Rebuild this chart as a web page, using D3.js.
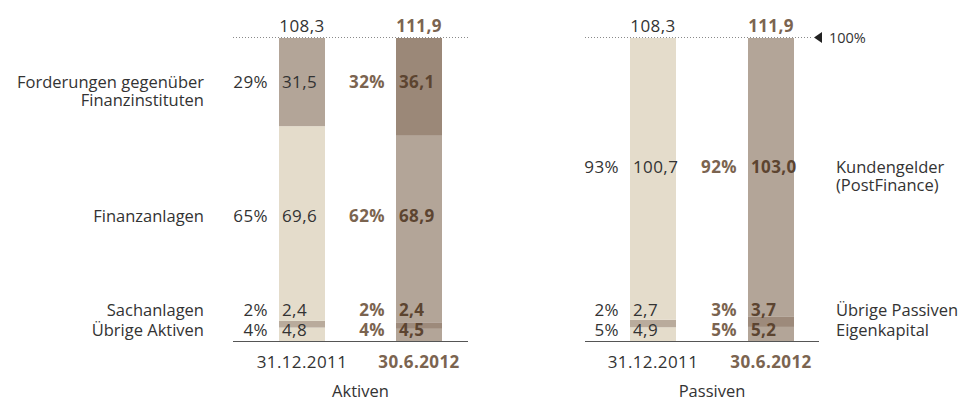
<!DOCTYPE html>
<html>
<head>
<meta charset="utf-8">
<script src="https://cdn.jsdelivr.net/npm/d3@7"></script>
<style>
  body { margin: 0; background: #fff; }
  text { font-family: "Open Sans", sans-serif; font-size: 16.5px; fill: #333; }
  .num { font-size: 17px; letter-spacing: 0.4px; }
  .bold { font-weight: 700; fill: #7b6450; }
  .inbold { font-weight: 700; fill: #5c4430; }
</style>
</head>
<body>
<div id="container"></div>
<script>
/* CONSTANTS AND GLOBALS */
const width = 960
const height = 401

/* DATA */
const dates = ["31.12.2011", "30.6.2012"]

// Aktiven, bottom to top
const aktivenCats = ["Übrige Aktiven", "Sachanlagen", "Finanzanlagen", "Forderungen gegenüber|Finanzinstituten"]
const aktiven2011 = [4.8, 2.4, 69.6, 31.5]
const aktiven2012 = [4.5, 2.4, 68.9, 36.1]
const aktivenPct2011 = [4, 2, 65, 29]
const aktivenPct2012 = [4, 2, 62, 32]
const aktivenTotals = [108.3, 111.9]

// Passiven, bottom to top
const passivenCats = ["Eigenkapital", "Übrige Passiven", "Kundengelder|(PostFinance)"]
const passiven2011 = [4.9, 2.7, 100.7]
const passiven2012 = [5.2, 3.7, 103.0]
const passivenPct2011 = [5, 2, 93]
const passivenPct2012 = [5, 3, 92]
const passivenTotals = [108.3, 111.9]

const fmt = d3.formatLocale({ decimal: ",", thousands: "'", grouping: [3], currency: ["", ""] }).format(".1f")

// colours per bar, bottom to top segments
const colors2011 = ["#e4dccb", "#b9ab9c", "#e4dccb", "#b3a598"]
const colors2012 = ["#b3a598", "#9d8a7b", "#b3a598", "#9b8878"]

const svg = d3.select("#container")
  .append("svg")
  .attr("width", width)
  .attr("height", height)

// SCALES (shared vertical, bars are 100%)
const yScale = d3.scaleLinear()
  .domain([0, 1])
  .range([341, 38])

const barW = 46

function drawPanel(opts) {
  const xScale = d3.scalePoint()
    .domain(dates)
    .range(opts.centers)

  // stack per date -> share of total
  const series = dates.map((dt, j) => {
    const vals = j === 0 ? opts.v2011 : opts.v2012
    const total = d3.sum(vals)
    let acc = 0
    return vals.map((v, i) => {
      const seg = { date: dt, i: i, y0: acc / total, y1: (acc + v) / total }
      acc += v
      return seg
    })
  })

  const g = svg.append("g")

  g.selectAll(".bar")
    .data(series)
    .join("g")
    .attr("class", "bar")
    .selectAll("rect")
    .data(d => d)
    .join("rect")
    .attr("x", d => xScale(d.date) - barW / 2)
    .attr("y", d => yScale(d.y1))
    .attr("width", barW)
    .attr("height", d => yScale(d.y0) - yScale(d.y1))
    .attr("fill", d => d.date === dates[0] ? opts.colors[0][d.i] : opts.colors[1][d.i])

  // dotted 100% line
  g.append("line")
    .attr("x1", opts.lineX[0]).attr("x2", opts.dotEnd)
    .attr("y1", yScale(1) - 0.5).attr("y2", yScale(1) - 0.5)
    .attr("stroke", "#8a8a8a")
    .attr("stroke-dasharray", "1,2")

  // baseline
  g.append("line")
    .attr("x1", opts.lineX[0]).attr("x2", opts.lineX[1])
    .attr("y1", yScale(0) + 0.5).attr("y2", yScale(0) + 0.5)
    .attr("stroke", "#555")

  // totals on top
  g.selectAll(".total")
    .data(opts.totals)
    .join("text")
    .attr("class", (d, i) => i === 1 ? "total num bold" : "total num")
    .attr("x", (d, i) => xScale(dates[i]))
    .attr("y", 32)
    .attr("text-anchor", "middle")
    .text(d => fmt(d))

  // per-row value and percent labels
  opts.cats.forEach((c, i) => {
    const y = opts.rowY[i]
    dates.forEach((dt, j) => {
      const vals = j === 0 ? opts.v2011 : opts.v2012
      const pcts = j === 0 ? opts.p2011 : opts.p2012
      g.append("text")
        .attr("class", j === 1 ? "num bold" : "num")
        .attr("x", xScale(dt) - barW / 2 - 11)
        .attr("y", y)
        .attr("text-anchor", "end")
        .text(pcts[i] + "%")
      g.append("text")
        .attr("class", j === 1 ? "num inbold" : "num")
        .attr("x", xScale(dt) - barW / 2 + 3)
        .attr("y", y)
        .text(fmt(vals[i]))
    })
    // category label
    const lines = c.split("|")
    const t = g.append("text")
      .attr("x", opts.catX)
      .attr("y", y)
      .attr("text-anchor", opts.catAnchor)
    lines.forEach((l, k) => {
      t.append("tspan")
        .attr("x", opts.catX)
        .attr("dy", k === 0 ? 0 : 18)
        .text(l)
    })
  })

  // dates
  g.selectAll(".date")
    .data(dates)
    .join("text")
    .attr("class", (d, i) => i === 1 ? "date num bold" : "date num")
    .attr("x", d => xScale(d))
    .attr("y", 368)
    .attr("text-anchor", "middle")
    .text(d => d)

  // panel title
  g.append("text")
    .attr("x", d3.mean(opts.centers))
    .attr("y", 397)
    .attr("text-anchor", "middle")
    .text(opts.title)
}

drawPanel({
  cats: aktivenCats, v2011: aktiven2011, v2012: aktiven2012,
  p2011: aktivenPct2011, p2012: aktivenPct2012, totals: aktivenTotals,
  centers: [302, 419], lineX: [233, 468], dotEnd: 468,
  rowY: [336, 316, 222, 88], catX: 204, catAnchor: "end",
  colors: [colors2011, colors2012], title: "Aktiven"
})

drawPanel({
  cats: passivenCats, v2011: passiven2011, v2012: passiven2012,
  p2011: passivenPct2011, p2012: passivenPct2012, totals: passivenTotals,
  centers: [653, 771], lineX: [585, 819], dotEnd: 812,
  rowY: [336, 316, 173], catX: 836, catAnchor: "start",
  colors: [["#e4dccb", "#b9ab9c", "#e4dccb"], ["#b3a598", "#9d8a7b", "#b3a598"]],
  title: "Passiven"
})

// 100% marker
svg.append("path")
  .attr("d", "M822,32L814,37.5L822,43Z")
  .attr("fill", "#222")

svg.append("text")
  .attr("x", 829)
  .attr("y", 43)
  .style("font-size", "14.5px")
  .text("100%")
</script>
</body>
</html>
